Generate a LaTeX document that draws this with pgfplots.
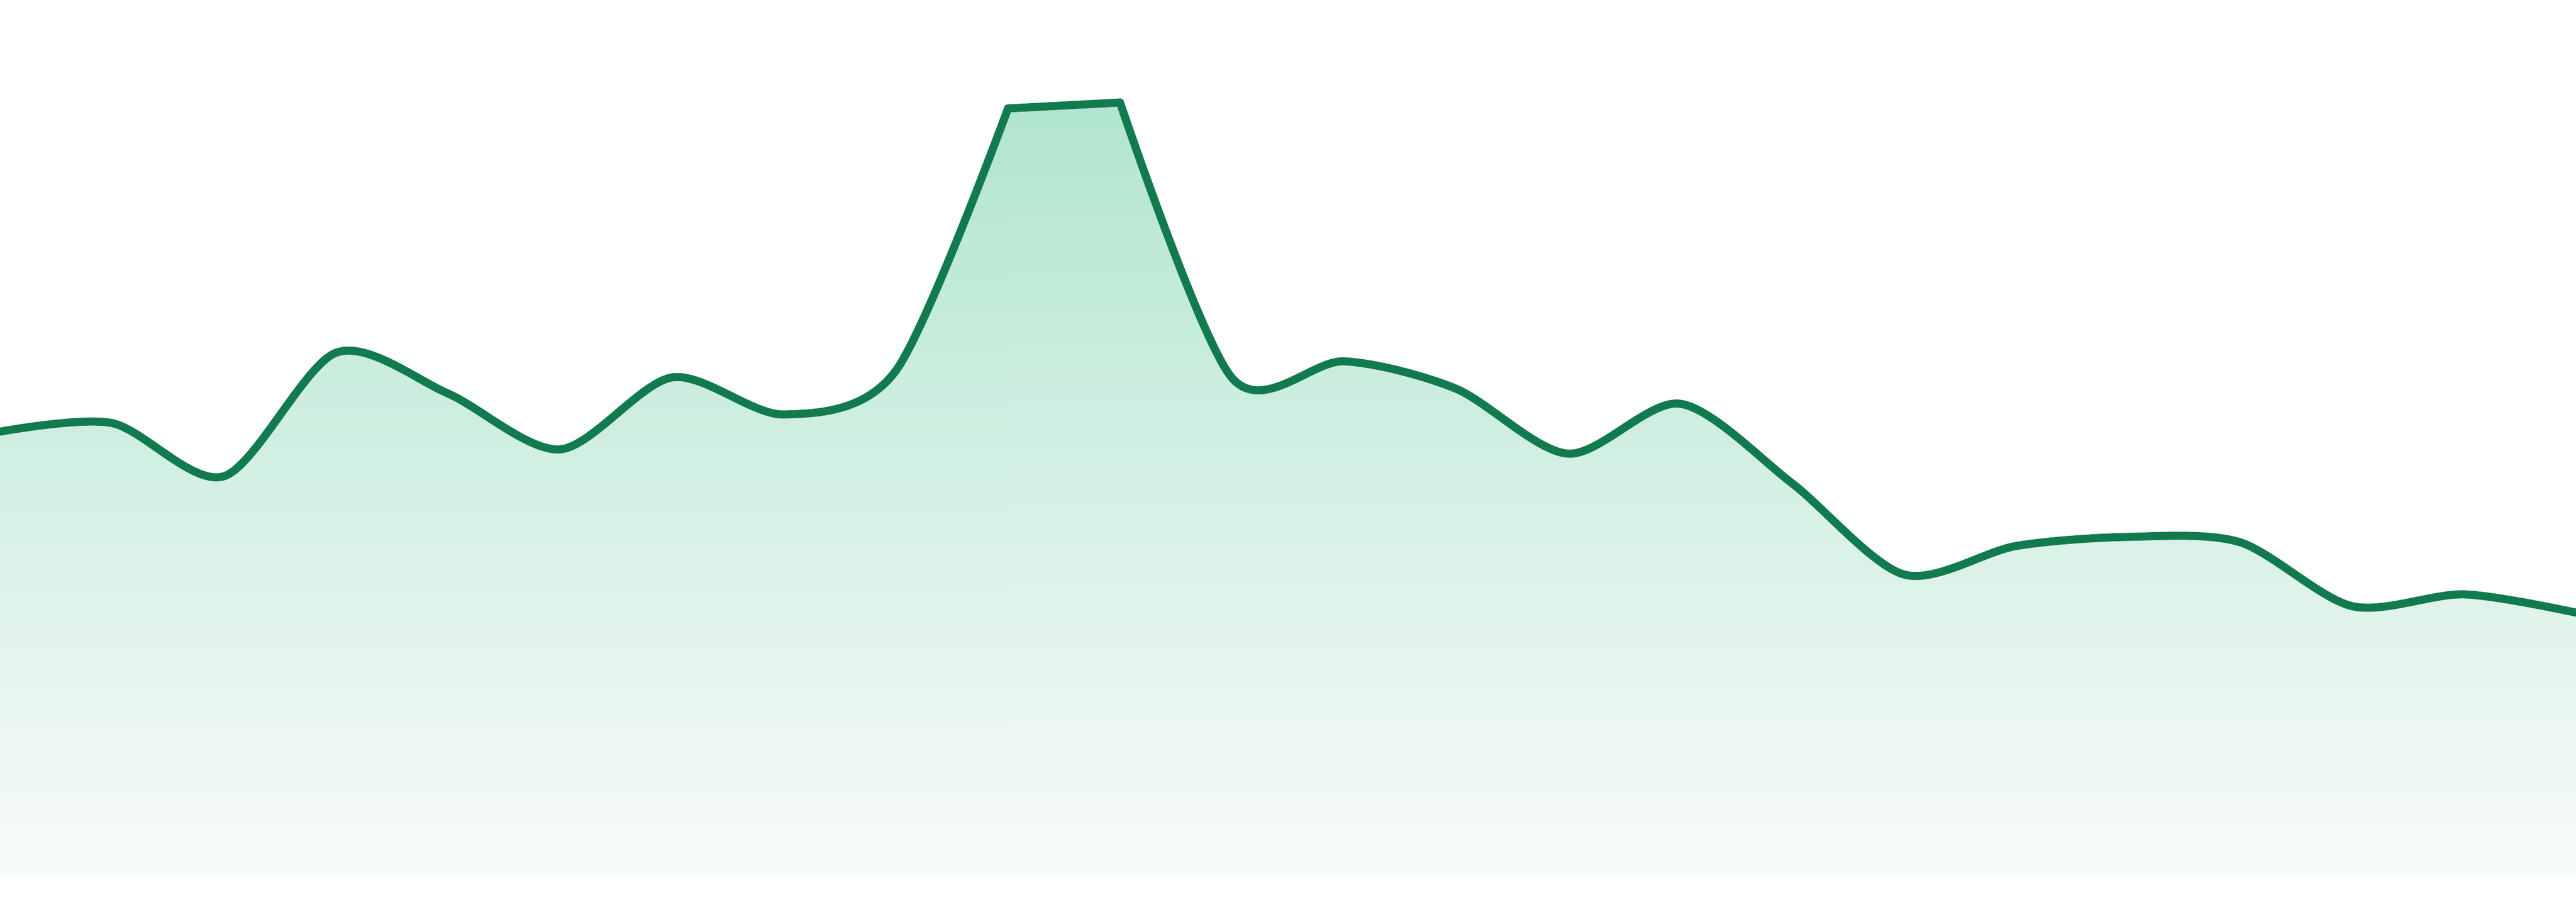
\documentclass[border=0pt]{standalone}
\usepackage{pgfplots}
\pgfplotsset{compat=1.18}

\definecolor{lineGreen}{HTML}{127A4F}
\definecolor{fillTop}{HTML}{B1E5CF}
\definecolor{fillBot}{HTML}{F8FBFA}

\pgfplotstableread{
x       y
0       828
208.7   844
417.4   745
626.1   975
834.8   899
1043.5  795
1252.2  929
1460.9  860
1669.6  942
1878.3  1430
2087.0  1441
2295.7  928
2504.3  959
2713.0  908
2921.7  787
3130.4  880
3339.1  732
3547.8  562
3756.5  615
3965.2  632
4173.9  622
4382.6  503
4591.3  525
4800    491
}\series

% the curve is drawn in three runs: before the plateau, the plateau, after it
\pgfplotsset{
    partA/.style={skip coords between index={10}{24}},
    partB/.style={skip coords between index={0}{9},
                  skip coords between index={11}{24}},
    partC/.style={skip coords between index={0}{10}},
    area/.style={draw=none, top color=fillTop, bottom color=fillBot},
    curve/.style={color=lineGreen, line width=1.5pt,
                  line join=round, line cap=round},
}

\begin{document}
\begin{tikzpicture}
\begin{axis}[
    width=480pt, height=168pt,
    scale only axis,
    axis lines=none,
    ticks=none,
    xmin=0, xmax=4800,
    ymin=-48, ymax=1632,
]
% shaded area
\addplot[area, partA, smooth, tension=0.5] table {\series} \closedcycle;
\addplot[area, partB] table {\series} \closedcycle;
\addplot[area, partC, smooth, tension=0.5] table {\series} \closedcycle;
% line
\addplot[curve, partA, smooth, tension=0.5] table {\series};
\addplot[curve, partB] table {\series};
\addplot[curve, partC, smooth, tension=0.5] table {\series};
\end{axis}
\pgfresetboundingbox
\path (current axis.south west) rectangle (current axis.north east);
\end{tikzpicture}
\end{document}
